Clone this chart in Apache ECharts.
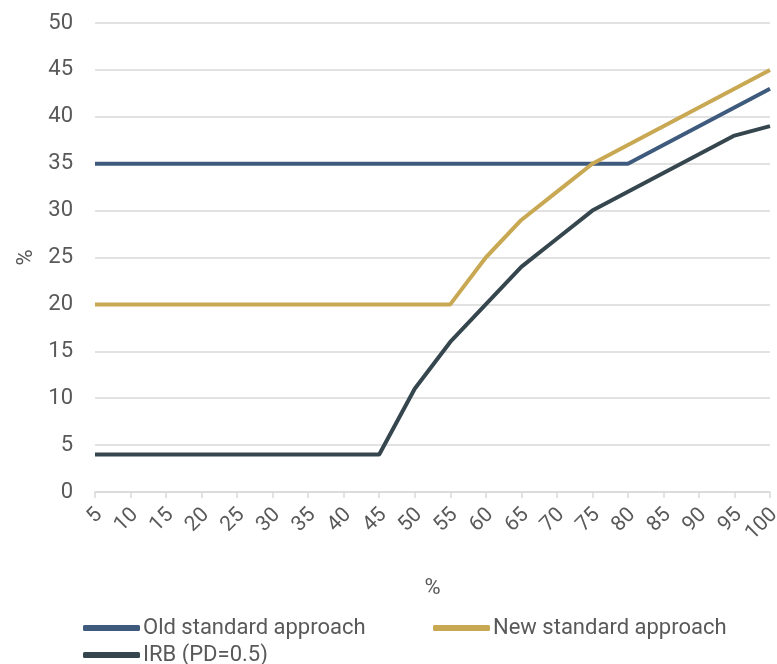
<!DOCTYPE html>
<html>
<head>
<meta charset="utf-8">
<script src="https://cdn.jsdelivr.net/npm/echarts@6/dist/echarts.min.js"></script>
<style>
  html, body { margin: 0; padding: 0; background: #fff; }
  #chart { width: 777px; height: 664px; }
</style>
</head>
<body>
<div id="chart"></div>
<script>
// Loan-to-value buckets (%) on the x axis
const categories = ['5','10','15','20','25','30','35','40','45','50','55','60','65','70','75','80','85','90','95','100'];

// Risk weights (%) per approach
const oldStandard = [35,35,35,35,35,35,35,35,35,35,35,35,35,35,35,35,37,39,41,43];
const newStandard = [20,20,20,20,20,20,20,20,20,20,20,25,29,32,35,37,39,41,43,45];
const irb         = [4,4,4,4,4,4,4,4,4,11,16,20,24,27,30,32,34,36,38,39];

const seriesNames = ['Old standard approach', 'New standard approach', 'IRB (PD=0.5)'];
const colors = ['#3e5a7c', '#c8a852', '#36464e'];

const chart = echarts.init(document.getElementById('chart'));
const font = 'Roboto, "Noto Sans", sans-serif';
const textColor = '#595959';

// one legend block per entry so the entries sit in two rows
function legendAt(name, left, top) {
  return {
    left: left,
    top: top,
    padding: 0,
    itemWidth: 57,
    itemHeight: 6,
    icon: 'roundRect',
    textStyle: { fontSize: 22, color: textColor, fontFamily: font, padding: [0, 0, 0, -2] },
    data: [name]
  };
}

chart.setOption({
  animation: false,
  color: colors,
  textStyle: { fontFamily: font },
  grid: { left: 95, right: 7, top: 23, bottom: 172, containLabel: false, outerBoundsMode: 'none' },
  legend: [
    legendAt(seriesNames[0], 83, 617),
    legendAt(seriesNames[1], 433, 617),
    legendAt(seriesNames[2], 83, 644)
  ],
  xAxis: {
    type: 'category',
    data: categories,
    boundaryGap: false,
    name: '%',
    nameLocation: 'middle',
    nameGap: 85,
    nameTextStyle: { fontSize: 22, color: textColor },
    axisLine: { lineStyle: { color: '#d9d9d9', width: 1.5 } },
    axisTick: { show: true, length: 6, lineStyle: { color: '#d9d9d9', width: 1.5 } },
    axisLabel: { rotate: 45, fontSize: 21, color: textColor, margin: 24, padding: [0, -6, 0, 0], interval: 0 },
    splitLine: { show: false }
  },
  yAxis: {
    type: 'value',
    min: 0,
    max: 50,
    interval: 5,
    name: '%',
    nameLocation: 'middle',
    nameGap: 56,
    nameRotate: 90,
    nameTextStyle: { fontSize: 22, color: textColor },
    axisLine: { show: false },
    axisTick: { show: false },
    axisLabel: { fontSize: 22, color: textColor, margin: 22 },
    splitLine: { lineStyle: { color: '#d9d9d9', width: 1.5 } }
  },
  series: [
    { name: seriesNames[0], type: 'line', data: oldStandard, symbol: 'none', lineStyle: { width: 4 }, z: 3 },
    { name: seriesNames[1], type: 'line', data: newStandard, symbol: 'none', lineStyle: { width: 4 }, z: 4 },
    { name: seriesNames[2], type: 'line', data: irb, symbol: 'none', lineStyle: { width: 4 }, z: 2 }
  ]
});
</script>
</body>
</html>
